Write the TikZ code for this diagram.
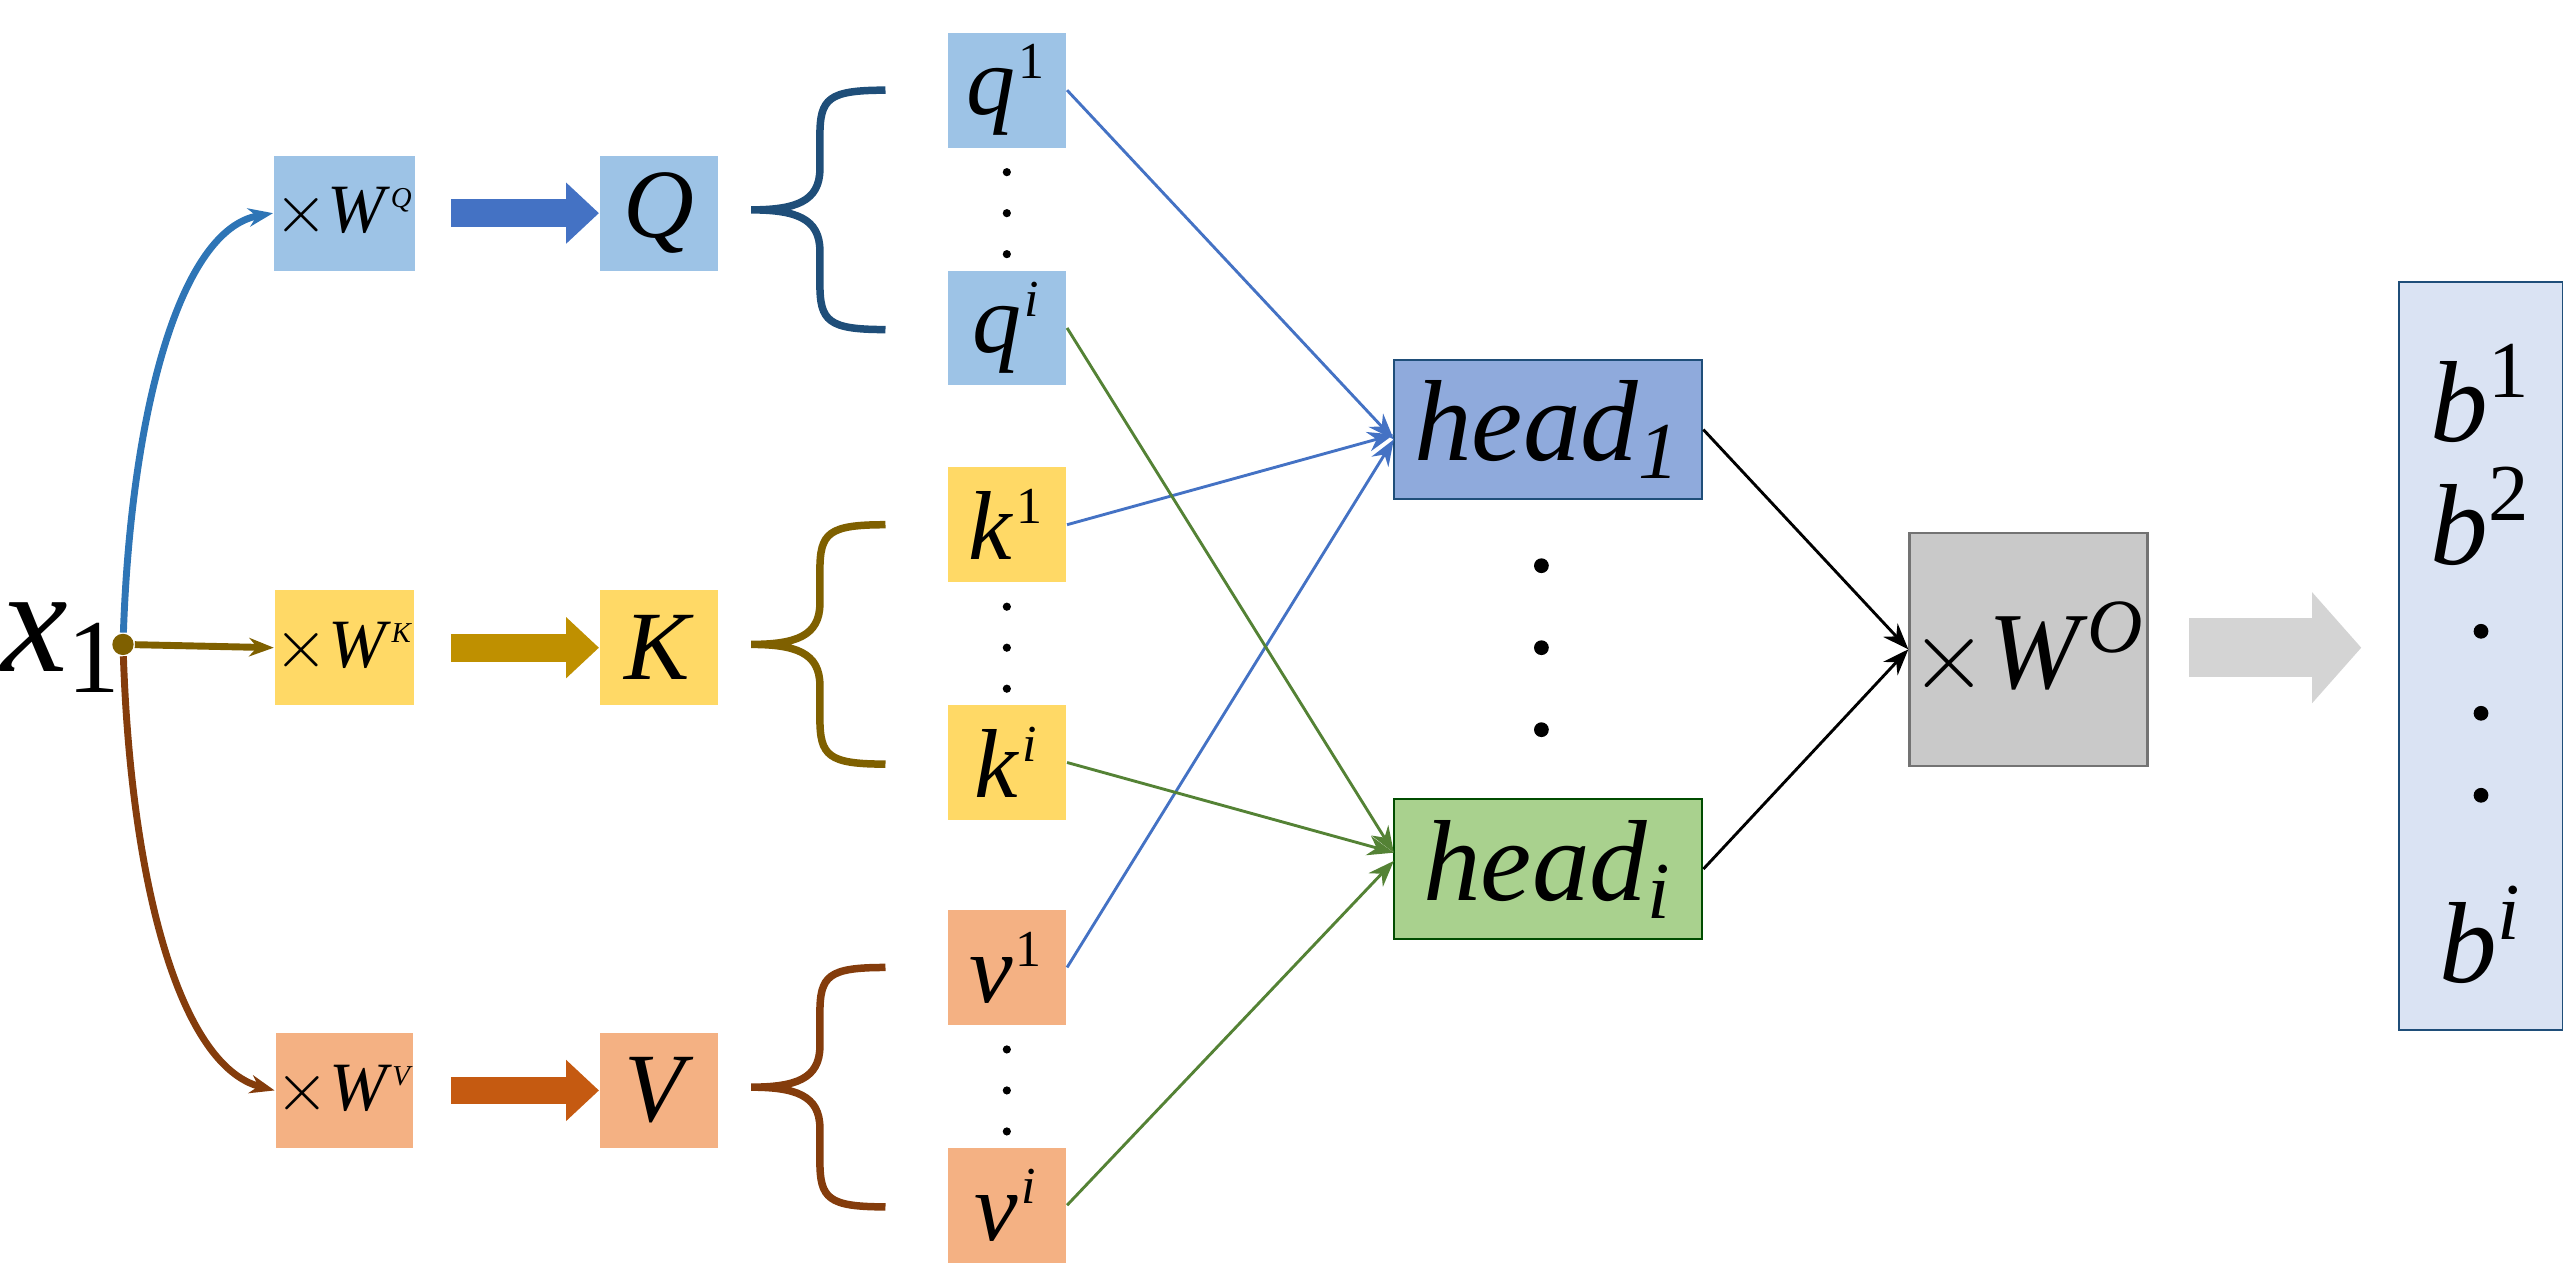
\documentclass[tikz,border=0pt]{standalone}
\usepackage{fontspec}
\setmainfont{Liberation Serif}
\usetikzlibrary{arrows.meta}
\definecolor{lb}{HTML}{9DC3E6}\definecolor{ly}{HTML}{FFD966}\definecolor{lo}{HTML}{F4B183}
\definecolor{hb}{HTML}{8FAADC}\definecolor{hg}{HTML}{A9D18E}\definecolor{gr}{HTML}{C9C9C9}
\definecolor{bb}{HTML}{DAE3F3}
\definecolor{ab}{HTML}{4472C4}\definecolor{ay}{HTML}{BF9000}\definecolor{ao}{HTML}{C55A11}
\definecolor{cb}{HTML}{2E75B6}\definecolor{cy}{HTML}{7F6000}\definecolor{co}{HTML}{843C0C}
\definecolor{brb}{HTML}{1F4E79}\definecolor{lnb}{HTML}{4472C4}\definecolor{lng}{HTML}{548235}
\newcommand{\vv}[2]{\textit{#1}\textsuperscript{\kern0.5pt\small #2}}
\begin{document}
\begin{tikzpicture}[x=0.01cm,y=-0.01cm,
 sq/.style={minimum width=0.72cm,minimum height=0.70cm,inner sep=0pt,font=\fontsize{17}{17}\selectfont},
 w/.style={minimum width=0.70cm,minimum height=0.70cm,inner sep=0pt,font=\fontsize{12}{12}\selectfont},
 hd/.style={minimum width=1.88cm,minimum height=0.85cm,inner sep=0pt,font=\fontsize{20}{20}\selectfont\itshape},
 fat/.style={-{Triangle[length=0.2cm,width=0.36cm]},line width=0.17cm},
 ln/.style={-{Stealth[length=0.16cm]},line width=0.5pt},
 dt/.style={circle,fill=black,inner sep=0pt,minimum size=0.09cm},
 sd/.style={circle,fill=black,inner sep=0pt,minimum size=0.05cm}]
\useasboundingbox (0,0) rectangle (1563,780);
\node[font=\fontsize{26}{26}\selectfont] (x) at (38,395) {\textit{x}\textsubscript{1}};
\node[circle,fill=cy,inner sep=0pt,minimum size=0.13cm] (d) at (75,393) {};
\node[w,fill=lb] (wq) at (210,130) {$\times$\textit{W}\textsuperscript{\tiny\itshape Q}};
\node[w,fill=ly] (wk) at (210,395) {$\times$\textit{W}\textsuperscript{\tiny\itshape K}};
\node[w,fill=lo] (wv) at (210,665) {$\times$\textit{W}\textsuperscript{\tiny\itshape V}};
\draw[-{Stealth[length=0.15cm]},cb,line width=1.2pt] (d) .. controls (80,250) and (110,140) .. (wq.west);
\draw[-{Stealth[length=0.15cm]},cy,line width=1.2pt] (d) -- (wk.west);
\draw[-{Stealth[length=0.15cm]},co,line width=1.2pt] (d) .. controls (80,540) and (110,650) .. (wv.west);
\node[sq,fill=lb] (Q) at (402,130) {\textit{Q}};
\node[sq,fill=ly] (K) at (402,395) {\textit{K}};
\node[sq,fill=lo] (V) at (402,665) {\textit{V}};
\coordinate (a1) at (275,130);\coordinate (a2) at (275,395);\coordinate (a3) at (275,665);
\draw[fat,ab] (a1) -- (Q.west);
\draw[fat,ay] (a2) -- (K.west);
\draw[fat,ao] (a3) -- (V.west);
\foreach \n/\y/\c in {q/128/brb,k/393/cy,v/663/co}{
 \draw[\c,line width=1.3pt] (540,\y-73) .. controls (505,\y-73) and (500,\y-68) .. (500,\y-45) -- (500,\y-25) .. controls (500,\y-5) and (485,\y) .. (458,\y)
  .. controls (485,\y) and (500,\y+5) .. (500,\y+25) -- (500,\y+45) .. controls (500,\y+68) and (505,\y+73) .. (540,\y+73);
}
\node[sq,fill=lb] (q1) at (614,55) {\vv{q}{1}};
\node[sq,fill=lb] (qi) at (614,200) {\vv{q}{\textit{i}}};
\node[sq,fill=ly] (k1) at (614,320) {\vv{k}{1}};
\node[sq,fill=ly] (ki) at (614,465) {\vv{k}{\textit{i}}};
\node[sq,fill=lo] (v1) at (614,590) {\vv{v}{1}};
\node[sq,fill=lo] (vi) at (614,735) {\vv{v}{\textit{i}}};
\foreach \y in {0,1,2}{
 \node[sd] (dq\y) at (614,105+25*\y) {};
 \node[sd] (dk\y) at (614,370+25*\y) {};
 \node[sd] (dv\y) at (614,640+25*\y) {};}
\node[hd,fill=hb,draw=brb] (h1) at (944,262) {head\textsubscript{1}};
\node[hd,fill=hg,draw=black!70!green] (hi) at (944,530) {head\textsubscript{\textit{i}}};
\foreach \y in {345,395,445}{\node[dt] at (940,\y) {};}
\coordinate (h1a) at (850,268);\coordinate (h1b) at (850,265);
\coordinate (hia) at (850,520);\coordinate (hib) at (850,525);
\draw[ln,lnb] (q1.east) -- (h1a);
\draw[ln,lnb] (k1.east) -- (h1b);
\draw[ln,lnb] (v1.east) -- (h1a);
\draw[ln,lng] (qi.east) -- (hia);
\draw[ln,lng] (ki.east) -- (hia);
\draw[ln,lng] (vi.east) -- (hib);
\node[minimum width=1.45cm,minimum height=1.42cm,inner sep=0pt,fill=gr,draw=black!55,font=\fontsize{19}{19}\selectfont] (wo) at (1237,396) {$\times$\textit{W}\textsuperscript{\textit{O}}};
\draw[ln,black] (h1.east) -- (wo.west);
\draw[ln,black] (hi.east) -- (wo.west);
\coordinate (g) at (1335,395);
\draw[-{Triangle[length=0.3cm,width=0.66cm]},line width=0.36cm,gr!80] (g) -- (1440,395);
\node[minimum width=1.0cm,minimum height=4.56cm,fill=bb,draw=brb,inner sep=0pt] (bx) at (1513,400) {};
\foreach \t/\y in {1/240,2/315}{\node[font=\fontsize{20}{20}\selectfont] at (1513,\y) {\textit{b}\textsuperscript{\t}};}
\node[font=\fontsize{20}{20}\selectfont] at (1513,570) {\textit{b}\textsuperscript{\textit{i}}};
\foreach \y in {385,435,485}{\node[dt] at (1513,\y) {};}
\end{tikzpicture}
\end{document}
